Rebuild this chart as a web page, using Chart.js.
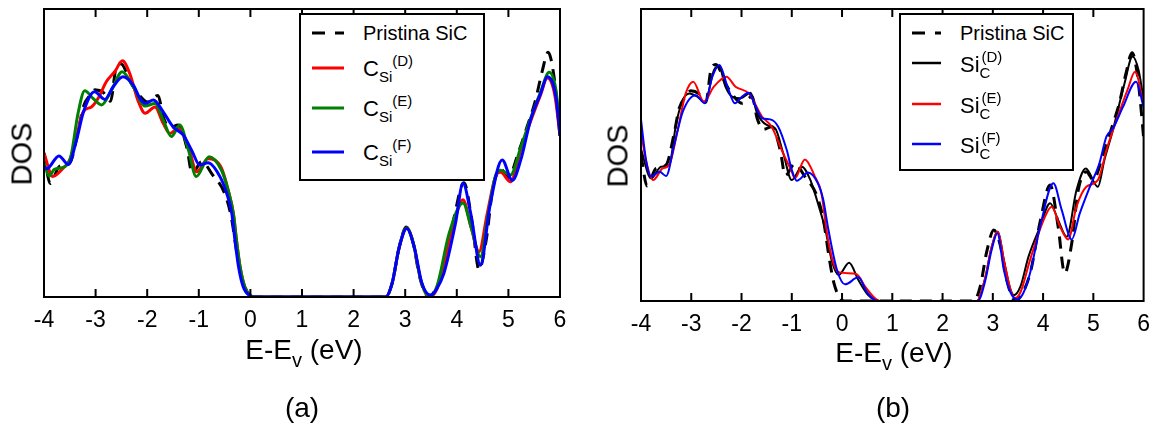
<!DOCTYPE html>
<html>
<head>
<meta charset="utf-8">
<script src="https://cdn.jsdelivr.net/npm/chart.js@4.4.1/dist/chart.umd.min.js"></script>
<style>
  html, body { margin:0; padding:0; background:#fff; }
  body { width:1160px; height:430px; position:relative; overflow:hidden;
         font-family:'Liberation Sans', Arial, sans-serif; color:#000; }
  canvas { position:absolute; top:0; }
  .txt { position:absolute; white-space:nowrap; line-height:1; }
  .rot { transform:translate(-50%,-50%) rotate(-90deg); }
  .ctr { transform:translate(-50%,-50%); }
  .box { position:absolute; border:2px solid #000; background:#fff; box-sizing:border-box; }
  .lg  { position:absolute; white-space:nowrap; height:28px; line-height:28px; font-size:20px; }
  .lg .m { font-size:22px; }
  .lg .sb { font-size:15px; position:relative; top:6px; }
  .lg .sp { font-size:15px; position:relative; top:-10px; }
  .ax sub { font-size:20px; position:relative; top:8px; vertical-align:baseline; }
  svg { position:absolute; overflow:visible; }
</style>
</head>
<body>
<canvas id="cA" width="580" height="430" style="left:0px;width:580px;height:430px;"></canvas>
<canvas id="cB" width="580" height="430" style="left:580px;width:580px;height:430px;"></canvas>

<!-- axis titles -->
<div class="txt rot" style="left:22px;top:154px;font-size:29px;">DOS</div>
<div class="txt rot" style="left:618px;top:156px;font-size:29px;">DOS</div>
<div class="txt ctr ax" style="left:304px;top:350px;font-size:28px;">E-E<sub>v</sub> (eV)</div>
<div class="txt ctr ax" style="left:894px;top:353px;font-size:28px;">E-E<sub>v</sub> (eV)</div>
<div class="txt ctr" style="left:302px;top:408px;font-size:28px;">(a)</div>
<div class="txt ctr" style="left:893px;top:408px;font-size:28px;">(b)</div>

<!-- legend (a) -->
<div class="box" style="left:299px;top:13px;width:186px;height:168px;"></div>
<svg style="left:0;top:0" width="1" height="1">
  <line x1="312" y1="33" x2="344" y2="33" stroke="#000" stroke-width="3" stroke-dasharray="13 10"/>
  <line x1="312" y1="68" x2="344" y2="68" stroke="#ff0000" stroke-width="3"/>
  <line x1="312" y1="108" x2="344" y2="108" stroke="#008000" stroke-width="3"/>
  <line x1="312" y1="152" x2="344" y2="152" stroke="#0000ff" stroke-width="3"/>
</svg>
<div class="lg" style="left:363px;top:19px;">Pristina SiC</div>
<div class="lg" style="left:363px;top:55px;"><span class="m">C</span><span class="sb">Si</span><span class="sp">(D)</span></div>
<div class="lg" style="left:363px;top:95px;"><span class="m">C</span><span class="sb">Si</span><span class="sp">(E)</span></div>
<div class="lg" style="left:363px;top:139px;"><span class="m">C</span><span class="sb">Si</span><span class="sp">(F)</span></div>

<!-- legend (b) -->
<div class="box" style="left:899px;top:13px;width:175px;height:158px;"></div>
<svg style="left:0;top:0" width="1" height="1">
  <line x1="912" y1="33" x2="941" y2="33" stroke="#000" stroke-width="3" stroke-dasharray="13 10"/>
  <line x1="912" y1="63" x2="941" y2="63" stroke="#000" stroke-width="2.5"/>
  <line x1="912" y1="104" x2="941" y2="104" stroke="#ff0000" stroke-width="2.5"/>
  <line x1="912" y1="144" x2="941" y2="144" stroke="#0000ff" stroke-width="2.5"/>
</svg>
<div class="lg" style="left:960px;top:19px;">Pristina SiC</div>
<div class="lg" style="left:960px;top:51px;"><span class="m">Si</span><span class="sb">C</span><span class="sp" style="margin-left:-9px;">(D)</span></div>
<div class="lg" style="left:960px;top:92px;"><span class="m">Si</span><span class="sb">C</span><span class="sp" style="margin-left:-9px;">(E)</span></div>
<div class="lg" style="left:960px;top:132px;"><span class="m">Si</span><span class="sb">C</span><span class="sp" style="margin-left:-9px;">(F)</span></div>

<script>
// ---------- DATA (energy in eV, DOS in % of axis height) ----------
const pristineE   = [-4.00,-3.88,-3.70,-3.50,-3.34,-3.24,-3.11,-3.01,-2.85,-2.71,-2.61,-2.51,-2.32,-2.15,-1.99,-1.79,-1.69,-1.56,-1.40,-1.23,-1.13,-0.94,-0.74,-0.50,-0.37,-0.26,-0.16,-0.04,0.05,2.62,2.75,2.88,3.02,3.15,3.28,3.45,3.60,3.75,3.94,4.14,4.30,4.43,4.57,4.70,4.86,5.00,5.19,5.36,5.52,5.65,5.77,5.88,5.98,6.00];
const pristineDOS = [50,39.4,45.4,46.6,57.4,66,70,72,71,68,79,81,74.5,70,67.7,70,62.6,58.8,59.7,51.7,43,47,42.6,36,27.7,15.2,6,1,0,0,5,17,24.3,19,7,0,3,10,27,39.7,25.4,9.5,19.8,38,44.3,41.5,50,59,68,78,85,77,60,56];

// panel (a)
const cSiD_E   = [-4.00,-3.83,-3.63,-3.50,-3.37,-3.24,-3.08,-2.95,-2.79,-2.63,-2.48,-2.34,-2.17,-2.04,-1.85,-1.69,-1.56,-1.40,-1.20,-1.04,-0.82,-0.56,-0.43,-0.33,-0.27,-0.20,-0.11,0.02,0.07,2.62,2.75,2.88,3.03,3.16,3.30,3.47,3.62,3.80,3.98,4.12,4.28,4.43,4.59,4.75,4.85,5.04,5.24,5.43,5.62,5.755,5.90,6.00];
const cSiD_DOS = [50,41.8,44.7,47.6,55.7,64.3,66,69,74.8,78.2,82,77.7,67.8,63.8,66,60.3,56.8,58.6,52.2,43.5,48,44.7,37,29,19.8,10.5,3.6,0.3,0,0,5,17,24,18.5,6,0,3,15,28,33.8,24,15.7,29,41.8,43.3,40,51,61,70,76,70,56];
const cSiE_E   = [-4.00,-3.90,-3.80,-3.60,-3.48,-3.34,-3.21,-3.05,-2.885,-2.69,-2.485,-2.27,-2.04,-1.85,-1.69,-1.53,-1.37,-1.20,-1.05,-0.80,-0.56,-0.43,-0.33,-0.27,-0.20,-0.11,0.02,0.07,2.62,2.75,2.88,3.03,3.16,3.30,3.47,3.62,3.85,4.12,4.28,4.46,4.60,4.75,4.85,5.04,5.24,5.43,5.62,5.79,5.92,6.00];
const cSiE_DOS = [46.5,42,44.3,45.2,48.7,63.8,71.6,69,66.7,71.9,78.2,73,66.3,67.2,61.5,55.7,59.7,51,41.8,48.7,44,37,29,19.8,10.5,3.6,0.3,0,0,5,17,24,18.5,6,0,4,22,32.6,24,14,28,42,44,42.4,52,62,71,78,72,59];
const cSiF_E   = [-4.00,-3.95,-3.71,-3.53,-3.37,-3.24,-3.02,-2.82,-2.66,-2.47,-2.27,-2.14,-2.04,-1.88,-1.69,-1.50,-1.30,-1.14,-0.98,-0.82,-0.59,-0.46,-0.36,-0.30,-0.23,-0.14,0.00,0.05,2.62,2.75,2.88,3.03,3.18,3.32,3.49,3.60,3.75,3.975,4.12,4.27,4.46,4.64,4.88,5.075,5.24,5.43,5.625,5.755,5.92,6.00];
const cSiF_DOS = [45.5,44.5,49,46,54.5,64,71.3,68.6,73,76.5,73.6,69,67.2,68.4,64.3,59.1,56.2,51,45.8,46.6,41.8,36,29,19.8,10.5,3.6,0.3,0,0,5,17,23.8,17,5,0.7,2.5,8.2,25.6,39.5,29,11,31.4,47.6,40.5,47.6,61.5,70.7,76.5,69.5,56];

// panel (b)
const siCD_E   = [-4.00,-3.80,-3.60,-3.44,-3.30,-3.17,-3.04,-2.88,-2.73,-2.55,-2.45,-2.32,-2.19,-2.02,-1.82,-1.69,-1.50,-1.33,-1.17,-1.00,-0.80,-0.62,-0.50,-0.33,-0.20,-0.07,0.14,0.325,0.52,0.66,0.75,2.68,2.85,2.97,3.10,3.22,3.35,3.42,3.55,3.71,3.94,4.14,4.30,4.47,4.665,4.85,5.09,5.22,5.39,5.62,5.78,5.90,6.00];
const siCD_DOS = [52,42,46,46.6,60.8,68.8,71.1,70,68,79,80.5,73.4,70,69.4,71.3,64.3,60.3,59.1,50.6,41.4,46,41,34.6,24.3,13.5,8.9,13.1,7.2,2,0.3,0,0,8,18,23.7,14,4,2,5,15.2,25.4,33.5,27.7,22,38,45.4,39.1,48.3,58.6,74.5,83.7,79,69];
const siCE_E   = [-4.00,-3.90,-3.76,-3.57,-3.44,-3.27,-3.11,-2.96,-2.75,-2.55,-2.30,-2.12,-1.85,-1.59,-1.40,-1.20,-1.00,-0.94,-0.74,-0.54,-0.41,-0.30,-0.17,-0.05,0.29,0.46,0.655,0.75,2.68,2.85,2.97,3.10,3.22,3.35,3.44,3.55,3.74,4.01,4.17,4.34,4.50,4.665,4.86,5.09,5.28,5.45,5.68,5.83,5.98,6.00];
const siCE_DOS = [58,48,41.4,45.4,46.6,58.6,71.1,75.1,68.3,73.4,76.8,73.4,71,63.1,59.7,51.7,44.3,42,48.5,42.6,36.9,23.2,12.9,9.8,9.2,4.9,0.9,0,0,8,18,23.7,14,4,1,3,14,27.7,32.3,25.4,21.1,32.3,39.1,41.4,52.8,61.4,72.3,78.5,68.8,67];
const siCF_E   = [-4.00,-3.90,-3.80,-3.63,-3.50,-3.34,-3.17,-2.91,-2.73,-2.58,-2.44,-2.28,-2.13,-1.99,-1.86,-1.73,-1.59,-1.43,-1.27,-1.10,-1.00,-0.90,-0.675,-0.48,-0.38,-0.27,-0.10,0.06,0.325,0.49,0.655,0.75,2.70,2.85,2.97,3.09,3.22,3.35,3.48,3.60,3.74,3.94,4.205,4.37,4.57,4.73,4.93,5.12,5.26,5.39,5.59,5.85,5.98,6.00];
const siCF_DOS = [62,48.3,42.6,44.3,42.8,53.4,64.8,70.5,67.7,76.8,80.8,73.4,67.7,70,71.3,67.1,62.6,62.2,59.7,51.7,44.9,41.2,44,40.3,35.2,24.3,10.6,5.7,8.1,3.2,0.3,0,0,7,17,23.2,10.6,3,0.6,2.5,9.5,25.4,40.3,31.2,21.1,30,39.1,47.1,56.3,59.1,66.5,75.1,67.7,66];

// ---------- CHARTS ----------
const FONT = "'Liberation Sans', Arial, sans-serif";
const pts = (E, D) => E.map((e, i) => ({ x: e, y: D[i] }));

const frame = {
  id: 'frame',
  afterDraw(chart) {
    const { ctx, chartArea: { left, right, top, bottom }, scales: { x } } = chart;
    ctx.save();
    ctx.strokeStyle = '#000';
    ctx.lineWidth = 2;
    ctx.strokeRect(left, top, right - left, bottom - top);
    x.ticks.forEach(t => {
      const px = x.getPixelForValue(t.value);
      if (px > left + 2 && px < right - 2) {
        ctx.beginPath();
        ctx.moveTo(px, bottom); ctx.lineTo(px, bottom - 8);
        ctx.moveTo(px, top);    ctx.lineTo(px, top + 8);
        ctx.stroke();
      }
    });
    ctx.restore();
  }
};

function ds(E, D, color, width, dash, order) {
  return { data: pts(E, D), borderColor: color, borderWidth: width, borderDash: dash || [],
           pointRadius: 0, fill: false, cubicInterpolationMode: 'monotone', order: order };
}

function makeChart(id, datasets, pad, axisH) {
  return new Chart(document.getElementById(id), {
    type: 'line',
    data: { datasets },
    options: {
      responsive: false, animation: false, devicePixelRatio: 1,
      layout: { padding: pad },
      plugins: { legend: { display: false }, tooltip: { enabled: false } },
      scales: {
        x: { type: 'linear', min: -4, max: 6,
             ticks: { stepSize: 1, color: '#000', padding: 10, maxRotation: 0, autoSkip: false,
                      font: { size: 23, family: FONT } },
             grid: { display: false, drawTicks: false }, border: { display: false },
             afterFit(s) { s.height = axisH; } },
        y: { display: false, min: 0, max: 100 }
      }
    },
    plugins: [frame]
  });
}

makeChart('cA', [
  ds(pristineE, pristineDOS, '#000000', 3, [12, 8], 3),
  ds(cSiD_E, cSiD_DOS, '#ff0000', 3, null, 2),
  ds(cSiE_E, cSiE_DOS, '#008000', 3, null, 1),
  ds(cSiF_E, cSiF_DOS, '#0000ff', 3, null, 0)
], { left: 44, right: 20, top: 9, bottom: 0 }, 133);

makeChart('cB', [
  ds(pristineE, pristineDOS, '#000000', 3, [12, 8], 3),
  ds(siCD_E, siCD_DOS, '#000000', 2, null, 2),
  ds(siCE_E, siCE_DOS, '#ff0000', 2, null, 1),
  ds(siCF_E, siCF_DOS, '#0000ff', 2, null, 0)
], { left: 61, right: 12, top: 9, bottom: 0 }, 129);
</script>
</body>
</html>
